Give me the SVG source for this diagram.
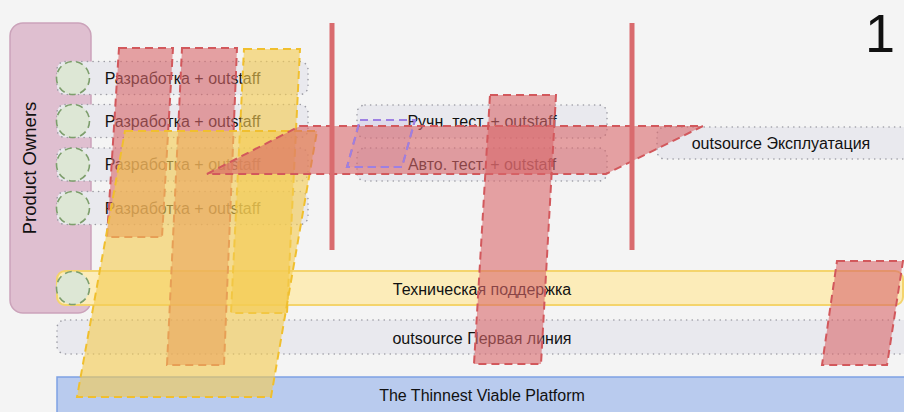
<svg xmlns="http://www.w3.org/2000/svg" width="904" height="412" viewBox="0 0 904 412">
<style>
text{font-family:"Liberation Sans",Arial,sans-serif;fill:#111;}
.lane{fill:#e9e9ee;stroke:#9d9da5;stroke-width:1.6;stroke-dasharray:0.1 5.5;stroke-linecap:round;}
.lt{font-size:16px;text-anchor:middle;dominant-baseline:central;}
.circ{fill:#dde7d5;stroke:#7d9e6c;stroke-width:1.6;stroke-dasharray:7 4.5;}
.red{fill:#d9676b;fill-opacity:0.6;stroke:#d2585c;stroke-width:2;stroke-dasharray:8 5;}
.yel{fill:#f3cb52;fill-opacity:0.62;stroke:#f0bf2e;stroke-width:2;stroke-dasharray:8 5;}
.vline{stroke:#d96b6e;stroke-width:5;}
</style>
<rect width="904" height="412" fill="#f4f4f4"/>

<g id="product-owners">
<rect x="10" y="23" width="81" height="290" rx="13" fill="#dfbfd0" stroke="#cba3ba" stroke-width="1.5"/>
<text transform="translate(35.5,168) rotate(-90)" font-size="18.5" text-anchor="middle">Product Owners</text>
</g>

<g id="platform">
<rect x="57" y="377" width="860" height="50" fill="#b9cbee" stroke="#7ea1e3" stroke-width="1.5"/>
<text class="lt" x="482" y="395" font-size="17">The Thinnest Viable Platform</text>
</g>

<g id="first-line">
<rect class="lane" x="57" y="320" width="860" height="34" rx="8"/>
<text class="lt" x="482" y="338">outsource Первая линия</text>
</g>

<g id="tech-support">
<rect x="57" y="271" width="846" height="34" rx="8" fill="#fcecb9" stroke="#f4d46c" stroke-width="2"/>
<text class="lt" x="482" y="289">Техническая поддержка</text>
<circle class="circ" cx="73" cy="288" r="16.5"/>
</g>

<g id="dev-1">
<rect class="lane" x="57" y="61.5" width="251" height="33" rx="8"/>
<text class="lt" x="182.5" y="78">Разработка + outstaff</text>
<circle class="circ" cx="73" cy="78" r="16.5"/>
</g>
<g id="dev-2">
<rect class="lane" x="57" y="104.5" width="251" height="33" rx="8"/>
<text class="lt" x="182.5" y="121">Разработка + outstaff</text>
<circle class="circ" cx="73" cy="121" r="16.5"/>
</g>
<g id="dev-3">
<rect class="lane" x="57" y="148" width="251" height="33" rx="8"/>
<text class="lt" x="182.5" y="164.5">Разработка + outstaff</text>
<circle class="circ" cx="73" cy="164.5" r="16.5"/>
</g>
<g id="dev-4">
<rect class="lane" x="57" y="191.5" width="251" height="33" rx="8"/>
<text class="lt" x="182.5" y="208">Разработка + outstaff</text>
<circle class="circ" cx="73" cy="208" r="16.5"/>
</g>

<g id="manual-test">
<rect class="lane" x="357" y="105" width="250" height="33" rx="8"/>
<text class="lt" x="482" y="121.5">Ручн. тест. + outstaff</text>
</g>
<g id="auto-test">
<rect class="lane" x="357" y="148" width="250" height="33" rx="8"/>
<text class="lt" x="482" y="164.5">Авто. тест. + outstaff</text>
</g>

<g id="operations">
<rect class="lane" x="657" y="127" width="260" height="32" rx="8"/>
<text class="lt" x="781" y="143.5">outsource Эксплуатация</text>
</g>

<g id="overlays">
<polygon class="red" points="119,48 173,48 162,237 107,237"/>
<polygon class="red" points="182,48 237,48 224,365 167,365"/>
<polygon class="yel" points="244,49 300,49 287,313 231,313"/>
<polygon class="yel" points="125,131 317,131 271,397 77,397"/>
<polygon points="360,120 415,120 402,167 347,167" fill="#a58ae0" fill-opacity="0.15" stroke="#9d80e3" stroke-width="2" stroke-dasharray="8 5"/>
<polygon class="red" points="300,126 703,126 606,174 207,174"/>
<polygon points="360,120 415,120 402,167 347,167" fill="none" stroke="#9d80e3" stroke-width="2" stroke-dasharray="8 5"/>
<polygon class="red" points="490,95 556,95 541,364 474,364"/>
<polygon class="red" points="837,261 903,261 887,365 822,365"/>
</g>

<g id="phase-lines">
<line class="vline" x1="332" y1="23" x2="332" y2="250"/>
<line class="vline" x1="632" y1="23" x2="632" y2="250"/>
</g>

<g id="slide-number">
<text x="880" y="52" font-size="54" text-anchor="middle">1</text>
</g>
</svg>
